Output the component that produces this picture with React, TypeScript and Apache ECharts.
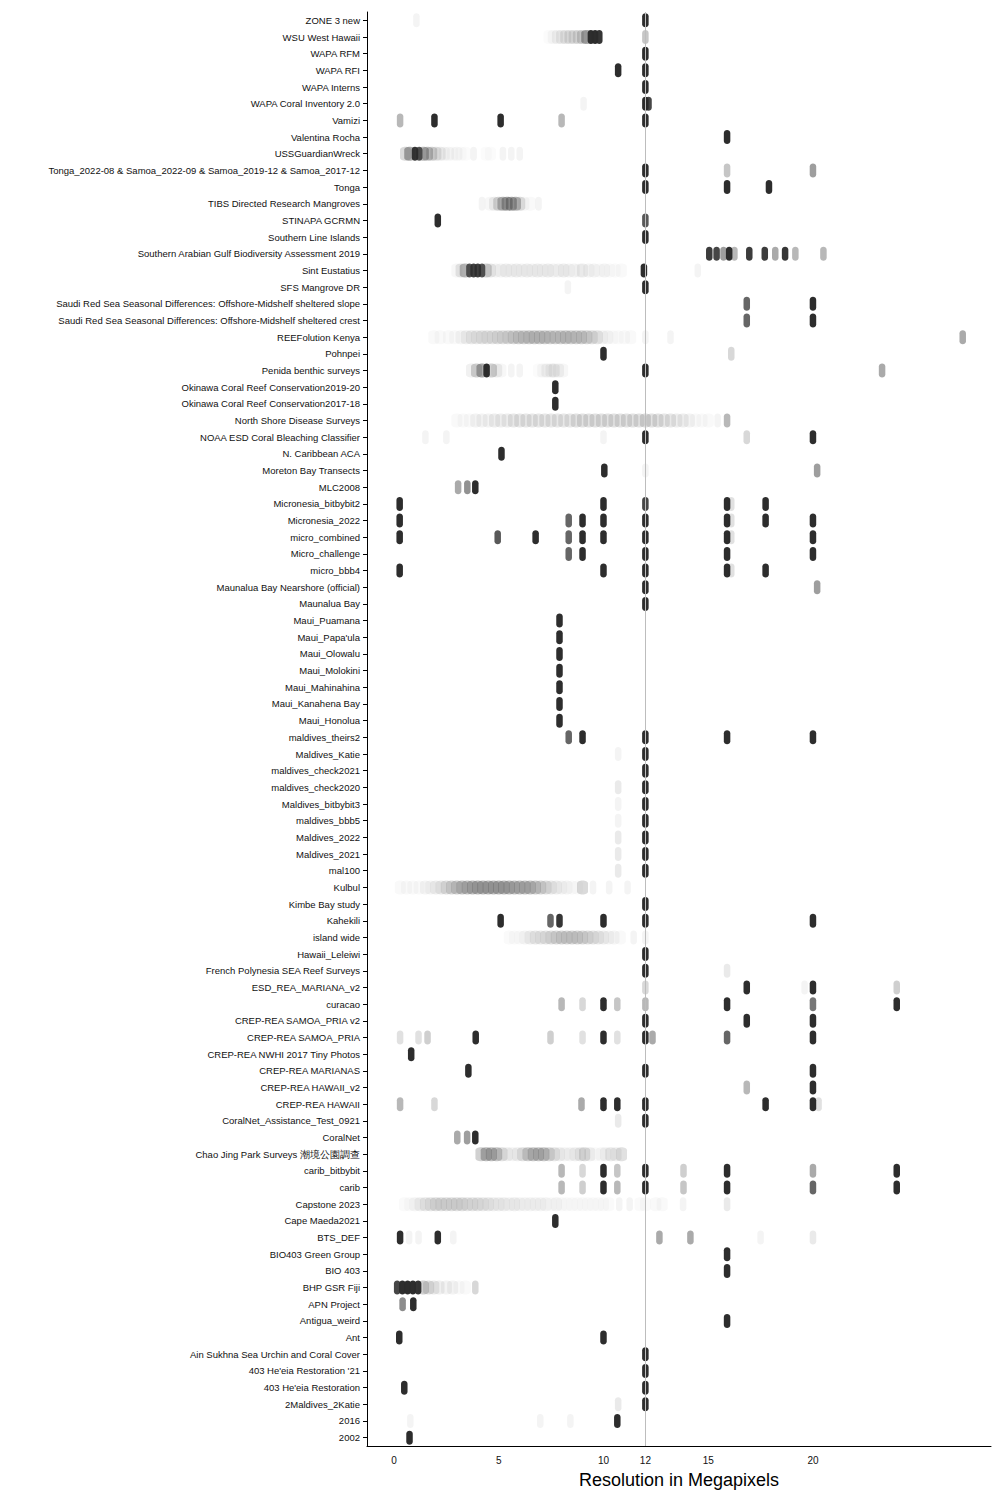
import React, { useEffect, useRef } from "react";
import * as echarts from "echarts";

// Each observation: [resolution in megapixels, number of images at that resolution]
type Obs = [number, number];

const categories = [
  "ZONE 3 new", "WSU West Hawaii", "WAPA RFM", "WAPA RFI", "WAPA Interns", "WAPA Coral Inventory 2.0",
  "Vamizi", "Valentina Rocha", "USSGuardianWreck",
  "Tonga_2022-08 & Samoa_2022-09 & Samoa_2019-12 & Samoa_2017-12", "Tonga",
  "TIBS Directed Research Mangroves", "STINAPA GCRMN", "Southern Line Islands",
  "Southern Arabian Gulf Biodiversity Assessment 2019", "Sint Eustatius", "SFS Mangrove DR",
  "Saudi Red Sea Seasonal Differences: Offshore-Midshelf sheltered slope",
  "Saudi Red Sea Seasonal Differences: Offshore-Midshelf sheltered crest",
  "REEFolution Kenya", "Pohnpei", "Penida benthic surveys",
  "Okinawa Coral Reef Conservation2019-20", "Okinawa Coral Reef Conservation2017-18",
  "North Shore Disease Surveys", "NOAA ESD Coral Bleaching Classifier", "N. Caribbean ACA",
  "Moreton Bay Transects", "MLC2008", "Micronesia_bitbybit2", "Micronesia_2022", "micro_combined",
  "Micro_challenge", "micro_bbb4", "Maunalua Bay Nearshore (official)", "Maunalua Bay",
  "Maui_Puamana", "Maui_Papa'ula", "Maui_Olowalu", "Maui_Molokini", "Maui_Mahinahina",
  "Maui_Kanahena Bay", "Maui_Honolua", "maldives_theirs2", "Maldives_Katie", "maldives_check2021",
  "maldives_check2020", "Maldives_bitbybit3", "maldives_bbb5", "Maldives_2022", "Maldives_2021",
  "mal100", "Kulbul", "Kimbe Bay study", "Kahekili", "island wide", "Hawaii_Leleiwi",
  "French Polynesia SEA Reef Surveys", "ESD_REA_MARIANA_v2", "curacao", "CREP-REA SAMOA_PRIA v2",
  "CREP-REA SAMOA_PRIA", "CREP-REA NWHI 2017 Tiny Photos", "CREP-REA MARIANAS", "CREP-REA HAWAII_v2",
  "CREP-REA HAWAII", "CoralNet_Assistance_Test_0921", "CoralNet", "Chao Jing Park Surveys 潮境公園調查",
  "carib_bitbybit", "carib", "Capstone 2023", "Cape Maeda2021", "BTS_DEF", "BIO403 Green Group",
  "BIO 403", "BHP GSR Fiji", "APN Project", "Antigua_weird", "Ant",
  "Ain Sukhna Sea Urchin and Coral Cover", "403 He'eia Restoration '21", "403 He'eia Restoration",
  "2Maldives_2Katie", "2016", "2002",
];

const zone3New: Obs[] = [[1.07, 1], [12, 100]];
const wsuWestHawaii: Obs[] = [[7.4, 1], [7.6, 2], [7.8, 3], [8.0, 4], [8.2, 5], [8.4, 6], [8.6, 6], [8.8, 7], [9.0, 10], [9.2, 25], [9.4, 100], [9.6, 100], [9.8, 60], [12, 6]];
const wapaRfm: Obs[] = [[12, 100]];
const wapaRfi: Obs[] = [[10.7, 100], [12, 100]];
const wapaInterns: Obs[] = [[12, 100]];
const wapaCoralInventory: Obs[] = [[9.05, 1], [12, 100], [12.15, 40]];
const vamizi: Obs[] = [[0.29, 8], [1.93, 100], [5.09, 100], [8.0, 8], [12, 100]];
const valentinaRocha: Obs[] = [[15.9, 100]];
const ussGuardianWreck: Obs[] = [[0.55, 10], [0.75, 25], [1.0, 60], [1.2, 30], [1.4, 20], [1.6, 14], [1.8, 10], [2.0, 6], [2.2, 4], [2.4, 2], [2.6, 2], [2.8, 1], [3.0, 2], [3.2, 1], [3.4, 1], [3.8, 1], [4.4, 1], [4.6, 1], [5.2, 1], [5.6, 1], [6.0, 1]];
const tongaSamoa: Obs[] = [[12, 100], [15.9, 6], [20.0, 12]];
const tonga: Obs[] = [[12, 100], [15.9, 100], [17.9, 100]];
const tibsMangroves: Obs[] = [[4.2, 1], [4.6, 2], [4.8, 4], [5.0, 10], [5.2, 18], [5.4, 22], [5.6, 22], [5.8, 18], [6.0, 8], [6.2, 2], [6.5, 1], [6.9, 1]];
const stinapa: Obs[] = [[2.09, 100], [12, 30]];
const southernLine: Obs[] = [[12, 100]];
const southernArabianGulf: Obs[] = [[15.05, 50], [15.4, 40], [15.73, 12], [16.0, 100], [16.25, 8], [16.96, 50], [17.7, 50], [18.2, 10], [18.67, 60], [19.16, 8], [20.5, 8]];
const sintEustatius: Obs[] = [[3.0, 2], [3.2, 6], [3.4, 18], [3.6, 30], [3.8, 45], [4.0, 45], [4.2, 30], [4.4, 12], [4.6, 5], [4.85, 2], [5.1, 2], [5.35, 3], [5.6, 2], [5.85, 3], [6.1, 2], [6.35, 3], [6.6, 2], [6.85, 3], [7.1, 2], [7.35, 3], [7.6, 2], [7.85, 2], [8.1, 3], [8.35, 2], [8.6, 2], [8.85, 2], [9.0, 5], [9.3, 2], [9.55, 2], [9.8, 1], [10.05, 2], [10.3, 1], [10.55, 1], [10.85, 1], [11.93, 100], [14.5, 1]];
const sfsMangrove: Obs[] = [[8.3, 1], [12, 100]];
const saudiSlope: Obs[] = [[16.84, 25], [20, 100]];
const saudiCrest: Obs[] = [[16.84, 25], [20, 100]];
const reefolutionKenya: Obs[] = [[1.9, 1], [2.2, 1], [2.6, 1], [2.9, 1], [3.2, 2], [3.45, 3], [3.7, 4], [3.95, 4], [4.2, 5], [4.45, 5], [4.7, 5], [4.95, 6], [5.2, 6], [5.45, 7], [5.7, 8], [5.95, 9], [6.2, 9], [6.45, 10], [6.7, 10], [6.95, 10], [7.2, 10], [7.45, 9], [7.7, 9], [7.95, 9], [8.2, 10], [8.45, 9], [8.7, 9], [8.95, 9], [9.2, 8], [9.45, 6], [9.7, 5], [9.95, 2], [10.2, 2], [10.45, 1], [10.7, 1], [11.0, 1], [11.3, 1], [12.0, 1], [13.2, 1], [27.15, 10]];
const pohnpei: Obs[] = [[10, 100], [16.1, 4]];
const penida: Obs[] = [[3.7, 3], [3.94, 10], [4.2, 20], [4.42, 100], [4.65, 10], [4.9, 4], [5.1, 2], [5.6, 1], [6.0, 1], [6.9, 1], [7.1, 2], [7.3, 3], [7.5, 4], [7.64, 6], [7.85, 3], [8.05, 2], [12, 100], [23.3, 10]];
const okinawa1920: Obs[] = [[7.7, 100]];
const okinawa1718: Obs[] = [[7.7, 100]];
const northShore: Obs[] = [[3.0, 1], [3.3, 1], [3.6, 1], [3.9, 2], [4.2, 2], [4.5, 2], [4.8, 3], [5.1, 3], [5.4, 3], [5.7, 4], [6.0, 4], [6.3, 4], [6.6, 4], [6.9, 4], [7.2, 4], [7.5, 4], [7.8, 4], [8.1, 4], [8.4, 4], [8.7, 5], [9.0, 5], [9.3, 5], [9.6, 5], [9.9, 5], [10.2, 5], [10.5, 5], [10.8, 5], [11.1, 5], [11.4, 5], [11.7, 5], [12.0, 6], [12.3, 5], [12.6, 5], [12.9, 4], [13.2, 4], [13.5, 3], [13.8, 3], [14.1, 2], [14.4, 1], [14.7, 1], [15.0, 1], [15.45, 1], [15.9, 8]];
const noaaEsd: Obs[] = [[1.5, 1], [2.5, 1], [10, 1], [12, 100], [16.84, 4], [20, 100]];
const nCaribbean: Obs[] = [[5.13, 100]];
const moretonBay: Obs[] = [[10.04, 100], [12, 1], [20.2, 12]];
const mlc2008: Obs[] = [[3.06, 10], [3.5, 14], [3.88, 100]];
const micronesiaBbb2: Obs[] = [[0.27, 100], [10, 100], [12, 40], [15.9, 100], [16.1, 3], [17.74, 100]];
const micronesia2022: Obs[] = [[0.27, 100], [8.34, 25], [9.0, 100], [10, 100], [12, 100], [15.9, 100], [16.1, 3], [17.74, 100], [20, 100]];
const microCombined: Obs[] = [[0.27, 100], [4.95, 30], [6.76, 100], [8.34, 25], [9, 100], [10, 100], [12, 100], [15.9, 100], [16.1, 3], [20, 100]];
const microChallenge: Obs[] = [[8.34, 25], [9, 100], [12, 100], [15.9, 100], [20, 100]];
const microBbb4: Obs[] = [[0.27, 100], [10, 100], [12, 100], [15.9, 100], [16.1, 3], [17.74, 100]];
const maunaluaNearshore: Obs[] = [[12, 100], [20.2, 12]];
const maunaluaBay: Obs[] = [[12, 100]];
const mauiPuamana: Obs[] = [[7.9, 100]];
const mauiPapaula: Obs[] = [[7.9, 100]];
const mauiOlowalu: Obs[] = [[7.9, 100]];
const mauiMolokini: Obs[] = [[7.9, 100]];
const mauiMahinahina: Obs[] = [[7.9, 100]];
const mauiKanahena: Obs[] = [[7.9, 100]];
const mauiHonolua: Obs[] = [[7.9, 100]];
const maldivesTheirs2: Obs[] = [[8.34, 25], [9, 100], [12, 100], [15.9, 100], [20, 100]];
const maldivesKatie: Obs[] = [[10.7, 1], [12, 100]];
const maldivesCheck2021: Obs[] = [[12, 100]];
const maldivesCheck2020: Obs[] = [[10.7, 2], [12, 100]];
const maldivesBbb3: Obs[] = [[10.7, 1], [12, 100]];
const maldivesBbb5: Obs[] = [[10.7, 1], [12, 100]];
const maldives2022: Obs[] = [[10.7, 2], [12, 100]];
const maldives2021: Obs[] = [[10.7, 2], [12, 100]];
const mal100: Obs[] = [[10.7, 2], [12, 100]];
const kulbul: Obs[] = [[0.3, 1], [0.6, 1], [0.9, 1], [1.2, 1], [1.5, 2], [1.75, 2], [2.0, 3], [2.25, 4], [2.5, 6], [2.75, 8], [3.0, 10], [3.25, 12], [3.5, 13], [3.75, 14], [4.0, 15], [4.25, 15], [4.5, 15], [4.75, 15], [5.0, 15], [5.25, 15], [5.5, 14], [5.75, 13], [6.0, 13], [6.25, 13], [6.5, 12], [6.75, 10], [7.0, 8], [7.25, 6], [7.5, 4], [7.75, 3], [8.0, 2], [8.25, 2], [8.5, 1], [8.75, 1], [9.0, 8], [9.5, 1], [10.27, 1], [11.15, 1]];
const kimbeBay: Obs[] = [[12, 100]];
const kahekili: Obs[] = [[5.09, 100], [7.47, 25], [7.9, 60], [10, 100], [12, 100], [20, 100]];
const islandWide: Obs[] = [[5.5, 1], [5.75, 1], [6.0, 1], [6.25, 2], [6.5, 3], [6.75, 4], [7.0, 4], [7.25, 5], [7.5, 6], [7.75, 7], [8.0, 8], [8.25, 8], [8.5, 8], [8.75, 8], [9.0, 7], [9.25, 6], [9.5, 5], [9.75, 4], [10.0, 3], [10.25, 2], [10.5, 2], [10.8, 1], [11.44, 1], [12.0, 1]];
const hawaiiLeleiwi: Obs[] = [[12, 100]];
const frenchPolynesia: Obs[] = [[12, 100], [15.9, 2]];
const esdReaMariana: Obs[] = [[12, 4], [16.84, 100], [19.6, 1], [20, 100], [24, 5]];
const curacao: Obs[] = [[8, 8], [9, 4], [10, 100], [10.66, 6], [12, 8], [15.9, 100], [20, 20], [24, 100]];
const crepSamoaV2: Obs[] = [[12, 100], [16.84, 100], [20, 100]];
const crepSamoa: Obs[] = [[0.29, 3], [1.17, 3], [1.6, 5], [3.9, 100], [7.47, 5], [9, 3], [10, 100], [10.66, 3], [12, 100], [12.34, 10], [15.9, 25], [20, 100]];
const crepNwhi: Obs[] = [[0.82, 100]];
const crepMarianas: Obs[] = [[3.55, 100], [12, 100], [20, 100]];
const crepHawaiiV2: Obs[] = [[16.84, 8], [20, 100]];
const crepHawaii: Obs[] = [[0.29, 8], [1.93, 4], [8.95, 10], [10, 100], [10.66, 100], [12, 100], [17.74, 100], [20, 100], [20.27, 3]];
const coralNetAssistance: Obs[] = [[10.7, 2], [12, 100]];
const coralNet: Obs[] = [[3.02, 10], [3.49, 12], [3.88, 100]];
const chaoJing: Obs[] = [[4.15, 10], [4.4, 15], [4.65, 14], [4.9, 12], [5.15, 6], [5.4, 3], [5.65, 2], [5.9, 3], [6.15, 6], [6.4, 10], [6.65, 12], [6.9, 12], [7.15, 12], [7.4, 8], [7.65, 5], [7.9, 3], [8.15, 2], [8.4, 2], [8.65, 3], [8.9, 5], [9.1, 8], [9.35, 3], [9.6, 1], [9.9, 2], [10.1, 3], [10.35, 4], [10.6, 3], [10.86, 6]];
const caribBbb: Obs[] = [[8, 8], [9, 4], [10, 100], [10.66, 6], [12, 100], [13.82, 5], [15.9, 100], [20, 10], [24, 100]];
const carib: Obs[] = [[8, 8], [9, 5], [10, 100], [10.66, 8], [12, 100], [13.82, 6], [15.9, 100], [20, 25], [24, 100]];
const capstone2023: Obs[] = [[0.5, 1], [0.75, 1], [1.0, 2], [1.25, 3], [1.5, 4], [1.75, 5], [2.0, 6], [2.25, 6], [2.5, 6], [2.75, 6], [3.0, 6], [3.25, 6], [3.5, 5], [3.75, 5], [4.0, 5], [4.25, 4], [4.5, 4], [4.75, 3], [5.0, 3], [5.25, 3], [5.5, 2], [5.75, 3], [6.0, 2], [6.25, 2], [6.5, 2], [6.75, 2], [7.0, 2], [7.25, 2], [7.5, 1], [7.75, 2], [8.0, 1], [8.25, 1], [8.5, 1], [8.75, 1], [9.0, 1], [9.25, 1], [9.5, 1], [9.75, 1], [10.0, 1], [10.25, 1], [10.75, 1], [11.25, 1], [11.75, 1], [12.0, 1], [12.5, 1], [12.8, 1], [13.8, 1], [15.9, 2]];
const capeMaeda: Obs[] = [[7.7, 100]];
const btsDef: Obs[] = [[0.29, 100], [0.72, 1], [1.17, 1], [2.09, 100], [2.83, 1], [12.67, 10], [14.15, 10], [17.5, 1], [20, 2]];
const bio403Green: Obs[] = [[15.9, 100]];
const bio403: Obs[] = [[15.9, 100]];
const bhpGsrFiji: Obs[] = [[0.15, 40], [0.4, 80], [0.65, 100], [0.9, 100], [1.15, 60], [1.4, 10], [1.65, 6], [1.9, 4], [2.15, 3], [2.5, 2], [2.8, 2], [3.1, 1], [3.4, 1], [3.88, 4]];
const apnProject: Obs[] = [[0.41, 15], [0.92, 100]];
const antiguaWeird: Obs[] = [[15.9, 100]];
const ant: Obs[] = [[0.25, 100], [10, 100]];
const ainSukhna: Obs[] = [[12, 100]];
const heeia21: Obs[] = [[12, 100]];
const heeia: Obs[] = [[0.49, 100], [12, 100]];
const maldives2Katie: Obs[] = [[10.7, 2], [12, 100]];
const year2016: Obs[] = [[0.78, 1], [6.98, 1], [8.42, 1], [10.66, 100]];
const year2002: Obs[] = [[0.74, 100]];

const observationsByCategory: Obs[][] = [
  zone3New, wsuWestHawaii, wapaRfm, wapaRfi, wapaInterns, wapaCoralInventory, vamizi, valentinaRocha,
  ussGuardianWreck, tongaSamoa, tonga, tibsMangroves, stinapa, southernLine, southernArabianGulf,
  sintEustatius, sfsMangrove, saudiSlope, saudiCrest, reefolutionKenya, pohnpei, penida, okinawa1920,
  okinawa1718, northShore, noaaEsd, nCaribbean, moretonBay, mlc2008, micronesiaBbb2, micronesia2022,
  microCombined, microChallenge, microBbb4, maunaluaNearshore, maunaluaBay, mauiPuamana, mauiPapaula,
  mauiOlowalu, mauiMolokini, mauiMahinahina, mauiKanahena, mauiHonolua, maldivesTheirs2, maldivesKatie,
  maldivesCheck2021, maldivesCheck2020, maldivesBbb3, maldivesBbb5, maldives2022, maldives2021, mal100,
  kulbul, kimbeBay, kahekili, islandWide, hawaiiLeleiwi, frenchPolynesia, esdReaMariana, curacao,
  crepSamoaV2, crepSamoa, crepNwhi, crepMarianas, crepHawaiiV2, crepHawaii, coralNetAssistance, coralNet,
  chaoJing, caribBbb, carib, capstone2023, capeMaeda, btsDef, bio403Green, bio403, bhpGsrFiji, apnProject,
  antiguaWeird, ant, ainSukhna, heeia21, heeia, maldives2Katie, year2016, year2002,
];

const tickValues = [0, 5, 10, 12, 15, 20];
const referenceResolution = 12;
const xMin = -1.29;
const xMax = 28.5;

const GRID_LEFT = 367;
const GRID_RIGHT = 9;
const PLOT_WIDTH = 1000 - GRID_LEFT - GRID_RIGHT;
const PX_PER_MP = PLOT_WIDTH / (xMax - xMin);

const POINT_ALPHA = 0.05;
const BAR_W = 6.5;
const BAR_H = 14;
const SMEAR_W = 11;
const BAR_SYMBOL = "path://M0,3 C0,-1 6,-1 6,3 L6,11 C6,15 0,15 0,11 Z";
const FONT = "Liberation Sans, Arial, sans-serif";

function buildData() {
  const data: any[] = [];
  observationsByCategory.forEach((obs, ci) => {
    obs.forEach(([x, n], i) => {
      // distance to nearest low-count neighbour (part of a smeared cloud)
      let d = Infinity;
      if (n < 30) {
        obs.forEach(([x2, n2], j) => {
          if (j !== i && n2 < 30) d = Math.min(d, Math.abs(x2 - x));
        });
      }
      if (d <= 0.32) {
        const layers = SMEAR_W / (d * PX_PER_MP);
        data.push({
          value: [x, ci],
          symbolSize: [SMEAR_W, BAR_H],
          itemStyle: { opacity: 1 - Math.pow(1 - POINT_ALPHA, n / layers) },
        });
      } else {
        data.push({
          value: [x, ci],
          itemStyle: { opacity: 1 - Math.pow(1 - POINT_ALPHA, n) },
        });
      }
    });
  });
  return data;
}

export default function App() {
  const ref = useRef<HTMLDivElement>(null);

  useEffect(() => {
    document.body.style.margin = "0";
    if (!ref.current) return;
    const chart = echarts.init(ref.current, null, { renderer: "svg" });

    chart.setOption({
      animation: false,
      backgroundColor: "#ffffff",
      grid: { left: GRID_LEFT, right: GRID_RIGHT, top: 12, bottom: 54, containLabel: false },
      xAxis: {
        type: "value",
        min: xMin,
        max: xMax,
        splitLine: { show: false },
        axisLine: { show: true, onZero: false, lineStyle: { color: "#000", width: 1 } },
        axisTick: { show: false },
        axisLabel: {
          customValues: tickValues,
          fontSize: 10,
          color: "#111",
          fontFamily: FONT,
          margin: 9,
        },
        name: "Resolution in Megapixels",
        nameLocation: "middle",
        nameGap: 25,
        nameTextStyle: { fontSize: 18, color: "#000", fontFamily: FONT },
      },
      yAxis: {
        type: "category",
        data: categories,
        inverse: true,
        axisLine: { show: true, onZero: false, lineStyle: { color: "#000", width: 1 } },
        axisTick: { show: true, alignWithLabel: true, length: 4, interval: 0, lineStyle: { color: "#000" } },
        axisLabel: {
          interval: 0,
          fontSize: 9.5,
          color: "#111",
          fontFamily: FONT,
          margin: 7,
        },
        splitLine: { show: false },
      },
      series: [
        {
          type: "scatter",
          data: [],
          z: 1,
          silent: true,
          markLine: {
            silent: true,
            symbol: "none",
            label: { show: false },
            lineStyle: { color: "#bdbdbd", width: 1, type: "solid" },
            data: [{ xAxis: referenceResolution }],
          },
        },
        {
          type: "scatter",
          z: 2,
          symbol: BAR_SYMBOL,
          symbolSize: [BAR_W, BAR_H],
          itemStyle: { color: "#2b2b2b" },
          emphasis: { disabled: true },
          data: buildData(),
        },
      ],
    });

    return () => chart.dispose();
  }, []);

  return <div ref={ref} style={{ width: 1000, height: 1500 }} />;
}
